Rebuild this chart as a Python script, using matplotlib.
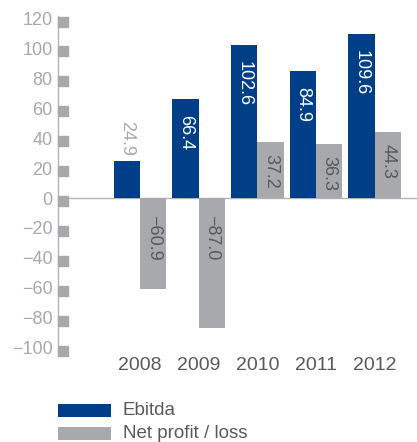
import matplotlib
matplotlib.use("Agg")
import matplotlib.pyplot as plt
import matplotlib.transforms as mtransforms
from matplotlib.patches import Rectangle

plt.rcParams['font.family'] = ['Liberation Sans', 'DejaVu Sans']

years = ["2008", "2009", "2010", "2011", "2012"]
ebitda = [24.9, 66.4, 102.6, 84.9, 109.6]
net_profit = [-60.9, -87.0, 37.2, 36.3, 44.3]
y_ticks = [120, 100, 80, 60, 40, 20, 0, -20, -40, -60, -80, -100]
series_names = ["Ebitda", "Net profit / loss"]

BLUE = "#003f87"
GREY = "#a8a9ad"
TICK_GREY = "#a7a8aa"
TEXT_DARK = "#58595b"

W, H = 417, 442
fig = plt.figure(figsize=(W / 100, H / 100), dpi=100)

# axes box in pixels: left 58, right 417, top 10, bottom 355
ax = fig.add_axes([58 / W, 1 - 355 / H, (W - 58) / W, 345 / H])
ax.set_xlim(-1.397, 4.72)
ax.set_ylim(-104.9, 125.7)

bw = 0.45
xs = list(range(len(years)))
ax.bar([x - bw / 2 for x in xs], ebitda, width=bw, color=BLUE, zorder=2)
ax.bar([x + bw / 2 for x in xs], net_profit, width=bw, color=GREY, zorder=2)

# zero line and axis
ax.axhline(0, color="#b3b4b6", lw=1.0, zorder=1)
for s in ["top", "right", "bottom"]:
    ax.spines[s].set_visible(False)
ax.spines["left"].set_color("#b3b4b6")
ax.spines["left"].set_linewidth(1.0)
ax.spines["left"].set_bounds(-103.5, 122)

ax.set_xticks([])
ax.set_yticks(y_ticks)
ax.set_yticklabels([str(v).replace("-", "\u2212") for v in y_ticks])
ax.tick_params(axis="y", length=0, pad=4, labelsize=13, labelcolor=TICK_GREY)

# square tick markers to the right of the axis
trans = mtransforms.blended_transform_factory(ax.transAxes, ax.transData)
ax.plot([5 / (W - 58)] * len(y_ticks), [v - 2 for v in y_ticks], "s",
        color=GREY, markersize=7.0, transform=trans, clip_on=False, zorder=3)

# value labels
for x, v in zip(xs, ebitda):
    lbl = f"{v:.1f}"
    if v > 40:
        ax.annotate(lbl, (x - bw / 2, v), xytext=(0, -11.5), textcoords="offset points",
                    rotation=270, ha="center", va="top", color="white", fontsize=13)
    else:
        ax.annotate(lbl, (x - bw / 2, v), xytext=(0, 3.5), textcoords="offset points",
                    rotation=270, ha="center", va="bottom", color=TICK_GREY, fontsize=13)

for x, v in zip(xs, net_profit):
    lbl = f"{v:.1f}".replace("-", "\u2212")
    top = max(v, 0)
    off = -8.5 if v > 0 else -12
    ax.annotate(lbl, (x + bw / 2, top), xytext=(0, off), textcoords="offset points",
                rotation=270, ha="center", va="top", color=TEXT_DARK, fontsize=13)

# year labels under each group
for x, yr in zip(xs, years):
    ax.text(x, -111.6, yr, ha="center", va="center", fontsize=14,
            color=TEXT_DARK, clip_on=False)

# legend
for i, (name, col) in enumerate(zip(series_names, [BLUE, GREY])):
    top = 404 + i * 23
    fig.add_artist(Rectangle((58 / W, 1 - (top + 13) / H), 53 / W, 13 / H,
                             transform=fig.transFigure, color=col, lw=0))
    fig.text(123 / W, 1 - (top + 6.5) / H, name, ha="left", va="center",
             fontsize=13.5, color=TEXT_DARK)

fig.savefig("out.png", dpi=100)
